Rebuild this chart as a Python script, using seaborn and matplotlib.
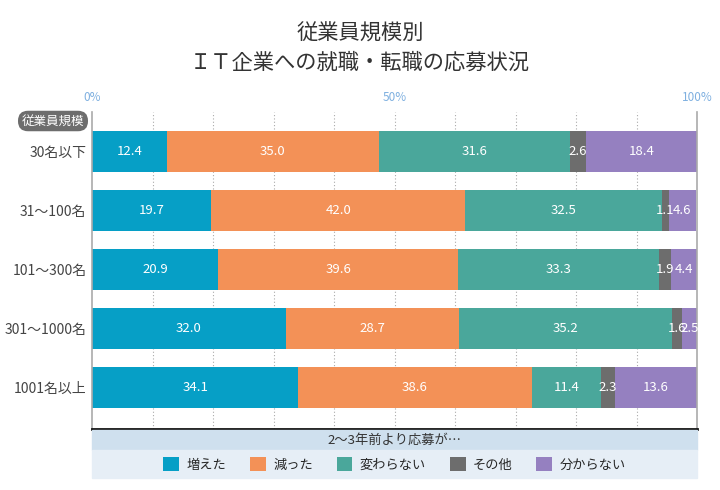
import matplotlib
matplotlib.use("Agg")
import matplotlib.pyplot as plt
from matplotlib.patches import Rectangle, Patch
import seaborn as sns
import pandas as pd
import numpy as np

sizes = ["30名以下", "31〜100名", "101〜300名", "301〜1000名", "1001名以上"]
series = ["増えた", "減った", "変わらない", "その他", "分からない"]
increased = [12.4, 19.7, 20.9, 32.0, 34.1]
decreased = [35.0, 42.0, 39.6, 28.7, 38.6]
unchanged = [31.6, 32.5, 33.3, 35.2, 11.4]
other = [2.6, 1.1, 1.9, 1.6, 2.3]
unknown = [18.4, 4.6, 4.4, 2.5, 13.6]
colors = ["#069fc6", "#f39157", "#4aa79b", "#6d6d6d", "#9580c0"]
pct_ticks = [0, 50, 100]
pct_labels = ["0%", "50%", "100%"]

sns.set_theme(style="white")
plt.rcParams['font.family'] = ['Noto Sans CJK JP', 'DejaVu Sans']

values = np.array([increased, decreased, unchanged, other, unknown])
cum = np.cumsum(values, axis=0)

fig = plt.figure(figsize=(7.2, 4.9), dpi=100)
ax = fig.add_axes([92/720, 1-429/490, (697-92)/720, (429-112)/490])

# background bands for legend
fig.patches.append(Rectangle((92/720, 1-450/490), (697-92)/720, 20/490,
                             transform=fig.transFigure, color="#cfe0ee", zorder=0))
fig.patches.append(Rectangle((92/720, 1-478/490), (697-92)/720, 28/490,
                             transform=fig.transFigure, color="#e6eef6", zorder=0))

# gridlines
for g in range(10, 100, 10):
    ax.axvline(g, color="#aaaaaa", ls=(0, (1, 2)), lw=0.8, zorder=0)

for i in range(len(series) - 1, -1, -1):
    df = pd.DataFrame({"size": sizes, "cum": cum[i]})
    sns.barplot(data=df, x="cum", y="size", orient="h", color=colors[i],
                saturation=1, width=0.7, errorbar=None, ax=ax, linewidth=0, zorder=2)

for i in range(len(series)):
    for j in range(len(sizes)):
        v = values[i, j]
        xc = cum[i, j] - v / 2
        ax.text(xc, j, f"{v:.1f}", ha="center", va="center", color="white",
                fontsize=9.5, zorder=5)

ax.set_xlim(0, 100)
ax.set_ylim(4.7, -0.67)
ax.set_xlabel("")
ax.set_ylabel("")
ax.xaxis.tick_top()
ax.set_xticks(pct_ticks)
ax.set_xticklabels(pct_labels, color="#7fb0e0", fontsize=8.5)
ax.tick_params(axis="x", length=0, pad=6)
ax.tick_params(axis="y", length=0, pad=4, labelsize=10, labelcolor="#444444")
for s in ["left", "right"]:
    ax.spines[s].set_color("#aaaaaa")
    ax.spines[s].set_linewidth(1.2)
ax.spines["top"].set_visible(False)
ax.spines["bottom"].set_color("#111111")
ax.spines["bottom"].set_linewidth(2)

# title
fig.text(0.5, 1-48/490, "従業員規模別\nＩＴ企業への就職・転職の応募状況", ha="center", va="center",
         fontsize=15.3, color="#333333", linespacing=1.38)

# header tag
fig.text(53/720, 1-121/490, "従業員規模", ha="center", va="center", fontsize=9,
         color="white",
         bbox=dict(boxstyle="round,pad=0.3,rounding_size=0.8", fc="#6d6d6d", ec="none"))

fig.text((92+697)/2/720, 1-440/490, "2〜3年前より応募が…", ha="center", va="center",
         fontsize=9.5, color="#333333")

handles = [Patch(facecolor=c, edgecolor="none") for c in colors]
fig.legend(handles, series, loc="center", bbox_to_anchor=((92+697)/2/720, 1-464.5/490),
           ncol=5, frameon=False, fontsize=9.5, handlelength=1.2, handleheight=1.2,
           handletextpad=0.55, columnspacing=1.8, borderaxespad=0)

fig.savefig("out.png", dpi=100)
